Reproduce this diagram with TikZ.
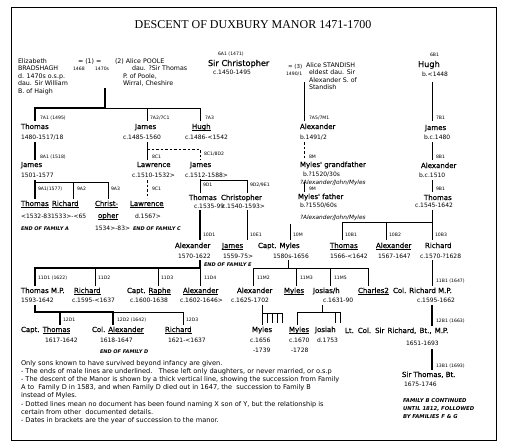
\documentclass[tikz,border=0pt]{standalone}
\usepackage{fontspec}
\setmainfont{DejaVu Sans}
\newfontfamily\serf{Liberation Serif}
\newfontfamily\nmf[FakeBold=0.4]{DejaVu Sans}
\newcommand\ul[1]{\leavevmode\setbox0\hbox{#1}\rlap{\raisebox{-2pt}{\rule{\wd0}{0.9pt}}}\box0}
\tikzset{
 bs/.style={inner sep=0pt, outer sep=0pt, anchor=base west},
 nm/.style={bs, font=\nmf\fontsize{7}{8}\selectfont},
 big/.style={bs, font=\nmf\fontsize{8.2}{9}\selectfont},
 dt/.style={bs, font=\fontsize{6}{7}\selectfont},
 lb/.style={bs, font=\fontsize{4.6}{5}\selectfont},
 sm/.style={bs, font=\fontsize{6.3}{7}\selectfont},
 itx/.style={bs, font=\itshape\fontsize{5.8}{7}\selectfont},
 eof/.style={bs, font=\bfseries\itshape\fontsize{5}{6}\selectfont},
 fam/.style={bs, font=\bfseries\itshape\fontsize{5.3}{6}\selectfont},
 note/.style={bs, font=\fontsize{6.6}{8}\selectfont},
 thk/.style={line width=2.6pt},
 thn/.style={line width=0.8pt},
 dsh/.style={line width=0.8pt, dash pattern=on 2.5pt off 2pt},
}
\begin{document}
\begin{tikzpicture}[x=1pt,y=-1pt]
\useasboundingbox (0,0) rectangle (510,447);
\draw[line width=1pt] (11,7) rectangle (496,440);
\node[bs, anchor=base, font=\serf\fontsize{12}{14}\selectfont] (title) at (253,28) {DESCENT OF DUXBURY MANOR 1471-1700};
% generation 6
\node[sm] (el1) at (18,63) {Elizabeth};
\node[sm] (el2) at (18,70.5) {BRADSHAGH};
\node[sm] (el3) at (18,78) {d. 1470s o.s.p.};
\node[sm] (el4) at (18,85.5) {dau. Sir William};
\node[sm] (el5) at (18,93) {B. of Haigh};
\node[sm] (mar1) at (78,63) {= (1) =};
\node[lb] (d1468) at (73,70.5) {1468};
\node[lb] (d1470) at (95,70.5) {1470s};
\node[sm] (po1) at (115,63) {(2) Alice POOLE};
\node[sm] (po2) at (132,70.5) {dau. ?Sir Thomas};
\node[sm] (po3) at (123,78) {P. of Poole,};
\node[sm] (po4) at (123,85.5) {Wirral, Cheshire};
\node[lb] (c6l) at (218,55) {6A1 (1471)};
\node[big] (c6) at (208,66) {Sir Christopher};
\node[dt] (c6d) at (213,74) {c.1450-1495};
\node[bs, font=\fontsize{5.5}{6}\selectfont] (mar3) at (288,68) {= (3)};
\node[lb] (mar3d) at (286,75) {1490/1};
\node[sm] (st1) at (306,67) {Alice STANDISH};
\node[sm] (st2) at (309,74.5) {eldest dau. Sir};
\node[sm] (st3) at (309,82) {Alexander S. of};
\node[sm] (st4) at (309,89.5) {Standish};
\node[lb] (h6l) at (430,56) {6B1};
\node[big] (h6) at (418,67) {Hugh};
\node[dt] (h6d) at (422,76) {b.<1448};
% generation 7
\node[lb] (l7a1) at (40,119) {7A1 (1495)};
\node[nm] (t7) at (21,129) {Thomas};
\node[dt] (t7d) at (21,139) {1480-1517/18};
\node[lb] (l7a2) at (150,119) {7A2/7C1};
\node[nm] (j7) at (135,129) {James};
\node[dt] (j7d) at (123,139) {c.1485-1560};
\node[lb] (l7a3) at (205,119) {7A3};
\node[nm] (hu7) at (192,129) {\ul{Hugh}};
\node[dt] (hu7d) at (185,139) {c.1486-<1542};
\node[lb] (l7a5) at (309,119) {7A5/7M1};
\node[nm] (a7) at (300,129) {Alexander};
\node[dt] (a7d) at (300,139) {b.1491/2};
\node[lb] (l7b1) at (436,119) {7B1};
\node[nm] (jb7) at (425,130) {James};
\node[dt] (jb7d) at (424,139) {b.c.1480};
% generation 8
\node[lb] (l8a1) at (40,158) {8A1 (1518)};
\node[nm] (j8) at (21,167) {James};
\node[dt] (j8d) at (21,177) {1501-1577};
\node[lb] (l8c1) at (152,158) {8C1};
\node[nm] (lw8) at (137,167) {Lawrence};
\node[dt] (lw8d) at (132,177) {c.1510-1532>};
\node[lb] (l8d2) at (204,155) {8C1/8D2};
\node[nm] (jd8) at (190,167) {James};
\node[dt] (jd8d) at (185,177) {c.1512-1588>};
\node[lb] (l8m) at (309,158) {8M};
\node[nm] (mg8) at (300,167) {Myles' grandfather};
\node[dt] (mg8d) at (303,176) {b.?1520/30s};
\node[itx] (mg8i) at (300,184) {?Alexander/John/Myles};
\node[lb] (l8b1) at (436,158) {8B1};
\node[nm] (ab8) at (421,168) {Alexander};
\node[dt] (ab8d) at (419,177) {b.c.1510};
% generation 9
\node[lb] (l9a1) at (38,190) {9A1(1577)};
\node[lb] (l9a2) at (77,190) {9A2};
\node[lb] (l9a3) at (111,190) {9A3};
\node[lb] (l9c1) at (152,190) {9C1};
\node[nm] (t9) at (21,206) {\ul{Thomas}};
\node[nm] (r9) at (52,206) {\ul{Richard}};
\node[nm] (c9) at (95,206) {\ul{Christ-}};
\node[nm] (lw9) at (130,206) {\ul{Lawrence}};
\node[dt] (tr9d) at (21,218) {<1532-831533>-<65};
\node[nm] (c9b) at (98,218) {\ul{opher}};
\node[dt] (lw9d) at (135,218) {d.1567>};
\node[eof] (eofa) at (21,230) {END OF FAMILY A};
\node[dt] (c9d) at (95,230) {1534>-83>};
\node[eof] (eofc) at (133,230) {END OF FAMILY C};
\node[lb] (l9d1) at (203,186) {9D1};
\node[lb] (l9d2) at (250,186) {9D2/9E1};
\node[nm] (td9) at (189,200) {Thomas};
\node[dt] (td9d) at (194,208) {c.1535-99};
\node[nm] (cd9) at (221,200) {Christopher};
\node[dt] (cd9d) at (222,208) {c.1540-1593>};
\node[lb] (l9m) at (309,190) {9M};
\node[nm] (mf9) at (298,199) {Myles' father};
\node[dt] (mf9d) at (300,207) {b.?1550/60s};
\node[itx] (mf9i) at (300,219) {?Alexander/John/Myles};
\node[lb] (l9b1) at (436,190) {9B1};
\node[nm] (tb9) at (424,200) {Thomas};
\node[dt] (tb9d) at (415,207) {c.1545-1642};
% generation 10
\node[lb] (l10d1) at (203,236) {10D1};
\node[lb] (l10e1) at (250,236) {10E1};
\node[lb] (l10m) at (293,236) {10M};
\node[lb] (l10b1) at (345,236) {10B1};
\node[lb] (l10b2) at (389,236) {10B2};
\node[lb] (l10b3) at (435,236) {10B3};
\node[nm] (a10) at (175,248) {Alexander};
\node[dt] (a10d) at (178,258) {1570-1622};
\node[nm] (j10) at (222,248) {\ul{James}};
\node[dt] (j10d) at (223,258) {1559-75>};
\node[nm] (m10) at (258,248) {Capt. Myles};
\node[dt] (m10d) at (273,258) {1580s-1656};
\node[eof] (eofe) at (204,266) {END OF FAMILY E};
\node[nm] (tb10) at (330,248) {\ul{Thomas}};
\node[dt] (tb10d) at (330,258) {1566-<1642};
\node[nm] (ab10) at (376,248) {\ul{Alexander}};
\node[dt] (ab10d) at (378,258) {1567-1647};
\node[nm] (rb10) at (425,248) {Richard};
\node[dt] (rb10d) at (420,258) {c.1570-?1628};
% generation 11
\node[lb] (l11d1) at (38,279) {11D1 (1622)};
\node[lb] (l11d2) at (98,279) {11D2};
\node[lb] (l11d3) at (161,279) {11D3};
\node[lb] (l11d4) at (204,279) {11D4};
\node[lb] (l11m2) at (257,279) {11M2};
\node[lb] (l11m3) at (300,279) {11M3};
\node[lb] (l11m5) at (334,279) {11M5};
\node[lb] (l11b1) at (436,282) {11B1 (1647)};
\node[nm] (t11) at (21,293) {Thomas M.P.};
\node[dt] (t11d) at (21,302) {1593-1642};
\node[nm] (r11) at (74,293) {\ul{Richard}};
\node[dt] (r11d) at (72,302) {c.1595-<1637};
\node[nm] (ra11) at (127,293) {Capt. \ul{Raphe}};
\node[dt] (ra11d) at (130,302) {c.1600-1638};
\node[nm] (ad11) at (183,293) {\ul{Alexander}};
\node[dt] (ad11d) at (180,302) {c.1602-1646>};
\node[nm] (am11) at (237,293) {Alexander};
\node[dt] (am11d) at (231,302) {c.1625-1702};
\node[nm] (mm11) at (284,293) {\ul{Myles}};
\node[nm] (jm11) at (313,293) {Josias/h};
\node[dt] (jm11d) at (323,302) {c.1631-90};
\node[nm] (ch11) at (358,293) {\ul{Charles2}};
\node[nm] (rb11) at (393,293) {Col. Richard M.P.};
\node[dt] (rb11d) at (417,302) {c.1595-1662};
% generation 12
\node[lb] (l12d1) at (63,321) {12D1};
\node[lb] (l12d2) at (117,321) {12D2 (1642)};
\node[lb] (l12d3) at (186,321) {12D3};
\node[lb] (l12b1) at (436,322) {12B1 (1663)};
\node[nm] (t12) at (21,332) {Capt. \ul{Thomas}};
\node[dt] (t12d) at (45,342) {1617-1642};
\node[nm] (a12) at (92,332) {Col. \ul{Alexander}};
\node[dt] (a12d) at (100,342) {1618-1647};
\node[eof] (eofd) at (100,353) {END OF FAMILY D};
\node[nm] (r12) at (165,332) {\ul{Richard}};
\node[dt] (r12d) at (168,342) {1621-<1637};
\node[nm] (ma12) at (252,332) {Myles};
\node[dt] (ma12d) at (250,342) {c.1656};
\node[dt] (ma12e) at (253,352) {-1739};
\node[nm] (mb12) at (289,332) {\ul{Myles}};
\node[dt] (mb12d) at (289,342) {c.1670};
\node[dt] (mb12e) at (291,352) {-1728};
\node[nm] (js12) at (315,332) {Josiah};
\node[dt] (js12d) at (317,342) {d.1753};
\node[nm] (rb12) at (345,333) {\spaceskip=3.2pt Lt. Col. Sir Richard, Bt., M.P.};
\node[dt] (rb12d) at (406,345) {1651-1693};
% generation 13
\node[lb] (l13b1) at (436,367) {13B1 (1693)};
\node[nm] (tb13) at (402,377) {Sir Thomas, Bt.};
\node[dt] (tb13d) at (404,386) {1675-1746};
\node[fam] (fb1) at (403,402) {FAMILY B CONTINUED};
\node[fam] (fb2) at (403,410) {UNTIL 1812, FOLLOWED};
\node[fam] (fb3) at (403,418) {BY FAMILIES F \& G};
% notes
\node[note] (n1) at (21,365) {Only sons known to have survived beyond infancy are given.};
\node[note] (n2) at (21,373) {- The ends of male lines are underlined.\ \ \ These left only daughters, or never married, or o.s.p};
\node[note] (n3) at (21,381) {- The descent of the Manor is shown by a thick vertical line, showing the succession from Family};
\node[note] (n4) at (21,389) {A to\ \ Family D in 1583, and when Family D died out in 1647, the\ \ succession to Family B};
\node[note] (n5) at (21,397) {instead of Myles.};
\node[note] (n6) at (21,406) {- Dotted lines mean no document has been found naming X son of Y, but the relationship is};
\node[note] (n7) at (21,414) {certain from other\ \ documented details.};
\node[note] (n8) at (21,422) {- Dates in brackets are the year of succession to the manor.};
% ---------- connectors
% gen 6 -> 7
\coordinate (p1) at (105,88); \coordinate (p2) at (105,108);
\coordinate (p3) at (35,108); \coordinate (p4) at (35,121);
\coordinate (p5) at (200,108); \coordinate (p6) at (200,121);
\coordinate (p7) at (147,108); \coordinate (p8) at (147,121);
\coordinate (p9) at (304,82); \coordinate (p10) at (304,121);
\coordinate (p11) at (432,82); \coordinate (p12) at (432,121);
\draw[thk] (p1)--(p2)--(p3)--(p4);
\draw[thn] (p2)--(p5)--(p6);
\draw[thn] (p7)--(p8);
\draw[thn] (p9)--(p10);
\draw[thn] (p11)--(p12);
% gen 7 -> 8
\coordinate (q1) at (35,142); \coordinate (q2) at (35,160);
\coordinate (q3) at (147,142); \coordinate (q4) at (147,160);
\coordinate (q5) at (147,149); \coordinate (q6) at (200,149); \coordinate (q7) at (200,160);
\coordinate (q8) at (304,142); \coordinate (q9) at (304,158);
\coordinate (q10) at (432,142); \coordinate (q11) at (432,160);
\draw[thk] (q1)--(q2);
\draw[thn] (q3)--(q4);
\draw[dsh] (q5)--(q6)--(q7);
\draw[dsh] (q8)--(q9);
\draw[thn] (q10)--(q11);
% gen 8 -> 9
\coordinate (r1) at (35,180); \coordinate (r2) at (35,199);
\coordinate (r3) at (35,182); \coordinate (r4) at (108,182); \coordinate (r5) at (108,199);
\coordinate (r6) at (73,182); \coordinate (r7) at (73,199);
\coordinate (r8) at (147,180); \coordinate (r9) at (147,198);
\coordinate (r10) at (200,179); \coordinate (r11) at (200,193);
\coordinate (r12) at (200,180); \coordinate (r13) at (247,180); \coordinate (r14) at (247,193);
\coordinate (r15) at (304,182); \coordinate (r16) at (304,192);
\coordinate (r17) at (432,180); \coordinate (r18) at (432,192);
\draw[thk] (r1)--(r2);
\draw[thn] (r3)--(r4)--(r5);
\draw[thn] (r6)--(r7);
\draw[dsh] (r8)--(r9);
\draw[thn] (r10)--(r11);
\draw[thn] (r12)--(r13)--(r14);
\draw[thn] (r15)--(r16);
\draw[thn] (r17)--(r18);
% gen 9 -> 10
\coordinate (s1) at (200,210); \coordinate (s2) at (200,240);
\coordinate (s3) at (247,210); \coordinate (s4) at (247,240);
\coordinate (s5) at (290,224); \coordinate (s6) at (290,240);
\coordinate (s7) at (432,210); \coordinate (s8) at (432,222); \coordinate (s9) at (432,240);
\coordinate (s10) at (342,222); \coordinate (s11) at (342,240);
\coordinate (s12) at (386,222); \coordinate (s13) at (386,240);
\draw[thk] (s1)--(s2);
\draw[thn] (s3)--(s4);
\draw[thn] (s5)--(s6);
\draw[thn] (s7)--(s9);
\draw[thn] (s11)--(s10)--(s8);
\draw[thn] (s12)--(s13);
% gen 10 -> 11
\coordinate (u1) at (200,260); \coordinate (u2) at (200,268);
\coordinate (u3) at (35,268); \coordinate (u4) at (35,286);
\coordinate (u5) at (95,268); \coordinate (u6) at (95,286);
\coordinate (u7) at (158,268); \coordinate (u8) at (158,286);
\coordinate (u9) at (200,286);
\coordinate (u10) at (288,260); \coordinate (u11) at (288,268);
\coordinate (u12) at (253,268); \coordinate (u13) at (368,268);
\coordinate (u14) at (253,286); \coordinate (u15) at (296,268); \coordinate (u16) at (296,286);
\coordinate (u17) at (330,268); \coordinate (u18) at (330,286); \coordinate (u19) at (368,286);
\coordinate (u20) at (432,260); \coordinate (u21) at (432,286);
\draw[thk] (u1)--(u2)--(u3)--(u4);
\draw[thn] (u5)--(u6);
\draw[thn] (u7)--(u8);
\draw[thn] (u2)--(u9);
\draw[thn] (u10)--(u11);
\draw[thn] (u14)--(u12)--(u13)--(u19);
\draw[thn] (u15)--(u16);
\draw[thn] (u17)--(u18);
\draw[thn] (u20)--(u21);
% gen 11 -> 12
\coordinate (v1) at (35,305); \coordinate (v2) at (35,312);
\coordinate (v3) at (113,312); \coordinate (v4) at (113,325);
\coordinate (v5) at (60,312); \coordinate (v6) at (60,325);
\coordinate (v7) at (183,312); \coordinate (v8) at (183,325);
\draw[thk] (v1)--(v2)--(v3)--(v4);
\draw[thk] (v5)--(v6);
\draw[thn] (v3)--(v7)--(v8);
\coordinate (w1) at (262,305); \coordinate (w2) at (262,325);
\coordinate (w3) at (262,313); \coordinate (w4) at (282,313);
\draw[thn] (w1)--(w2);
\draw[thn] (w3)--(w4);
\foreach \xx [count=\i] in {267,272,277,282} {
  \coordinate (wa\i) at (\xx,313); \coordinate (wb\i) at (\xx,323);
  \draw[thn] (wa\i)--(wb\i);
}
\coordinate (x1) at (322,305); \coordinate (x2) at (322,312);
\coordinate (x3) at (297,312); \coordinate (x4) at (340,312);
\coordinate (x5) at (297,325); \coordinate (x6) at (335,312); \coordinate (x7) at (335,323);
\coordinate (x8) at (340,323);
\draw[thn] (x1)--(x2);
\draw[thn] (x5)--(x3)--(x4)--(x8);
\draw[thn] (x6)--(x7);
\coordinate (y1) at (432,305); \coordinate (y2) at (432,326);
\coordinate (y3) at (432,349); \coordinate (y4) at (432,370);
\draw[thk] (y1)--(y2);
\draw[thk] (y3)--(y4);
\end{tikzpicture}
\end{document}
